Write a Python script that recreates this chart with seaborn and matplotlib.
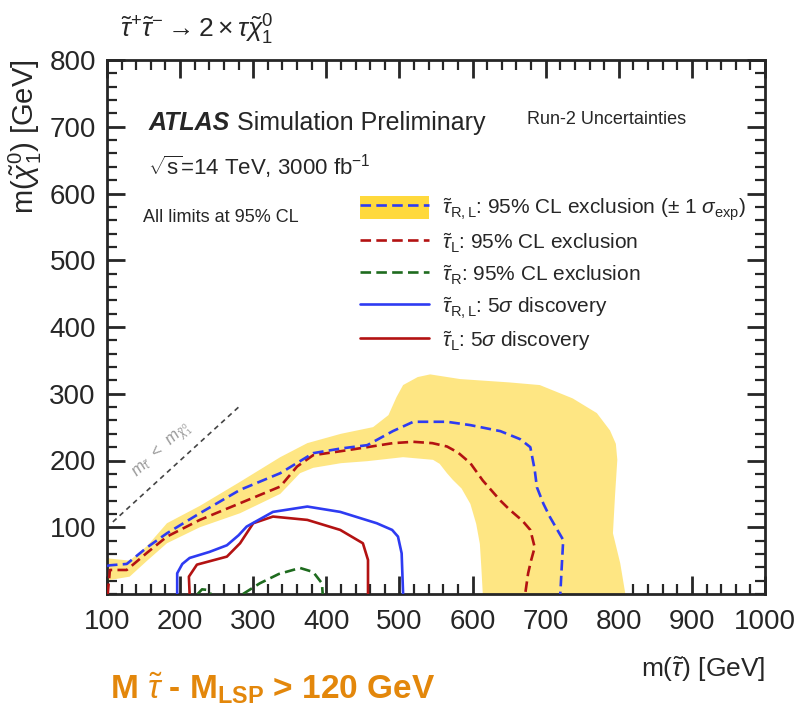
import matplotlib
matplotlib.use("Agg")
import numpy as np
import pandas as pd
import matplotlib.pyplot as plt
import seaborn as sns
from matplotlib.patches import Patch
from matplotlib.lines import Line2D
from matplotlib.legend_handler import HandlerTuple
from matplotlib.ticker import MultipleLocator

# ---- contour data: m(stau) [GeV] vs m(chi1^0) [GeV] ----
# stau_RL: 95% CL expected exclusion
excl_RL_x = [100, 104, 127, 155, 182, 227, 282, 337, 382, 420, 456, 491, 519, 565, 597, 638, 665, 679, 685, 688, 697, 706, 716, 724, 722, 720]
excl_RL_y = [42, 43, 45, 70, 91, 121, 156, 181, 211, 218, 223, 244, 258, 258, 253, 244, 232, 220, 186, 160, 135, 115, 96, 81, 41, 0]

# +-1 sigma band around the stau_RL exclusion (upper edge left->right, lower edge right->left)
band_x = [100, 104, 131, 155, 182, 227, 282, 337, 374, 420, 464, 485, 496, 505, 525, 542, 583, 650, 692, 737, 770, 788, 796, 798, 795, 792, 802, 809,
          614, 612, 610, 605, 597, 585, 573, 565, 555, 546, 505, 456, 420, 382, 364, 337, 282, 227, 182, 155, 131, 104, 100]
band_y = [55, 53, 50, 72, 106, 132, 168, 205, 226, 240, 250, 268, 295, 313, 325, 329, 322, 317, 313, 293, 271, 245, 225, 201, 150, 91, 46, 0,
          0, 40, 75, 105, 135, 158, 171, 181, 195, 201, 205, 199, 196, 189, 181, 150, 121, 100, 76, 50, 26, 21, 20]

# stau_L: 95% CL expected exclusion
excl_L_x = [101, 104, 127, 155, 182, 227, 282, 337, 360, 382, 420, 456, 491, 519, 545, 565, 580, 597, 614, 638, 651, 668, 679, 685, 680, 676, 672]
excl_L_y = [0, 36, 36, 62, 86, 111, 136, 161, 191, 208, 214, 220, 226, 228, 226, 221, 212, 196, 170, 140, 126, 110, 96, 70, 50, 31, 0]

# stau_R: 95% CL expected exclusion (two islands)
excl_R_x = [286, 309, 335, 364, 382, 394, 395]
excl_R_y = [0, 16, 30, 39, 33, 16, 0]
excl_R2_x = [224, 230, 238, 242]
excl_R2_y = [0, 7, 6, 0]

# stau_RL: 5 sigma discovery
disc_RL_x = [196, 196, 203, 213, 240, 264, 280, 291, 327, 374, 419, 469, 490, 498, 503, 505]
disc_RL_y = [0, 31, 45, 54, 63, 73, 88, 101, 123, 131, 123, 106, 96, 86, 61, 0]

# stau_L: 5 sigma discovery
disc_L_x = [213, 212, 223, 264, 282, 300, 327, 374, 419, 450, 457, 457]
disc_L_y = [0, 26, 44, 56, 76, 106, 116, 111, 96, 76, 51, 0]

# kinematic boundary m(stau) = m(chi1^0)
diag_x = [108, 280]
diag_y = [108, 280]

x_ticks = [100, 200, 300, 400, 500, 600, 700, 800, 900, 1000]
y_ticks = [100, 200, 300, 400, 500, 600, 700, 800]

BLUE = "#2E3BF2"
RED = "#B31212"
GREEN = "#1E6B1E"
BAND = "#FEE683"
BAND_LEG = "#FFD93C"
ORANGE = "#E3870B"

sns.set_style("ticks")
plt.rcParams.update({
    "mathtext.fontset": "custom",
    "mathtext.rm": "Liberation Sans",
    "mathtext.it": "Liberation Sans:italic",
    "mathtext.bf": "Liberation Sans:bold",
    "axes.linewidth": 2.0,
    "xtick.major.width": 2.0,
    "ytick.major.width": 2.0,
    "xtick.minor.width": 1.6,
    "ytick.minor.width": 1.6,
})
plt.rcParams["font.family"] = ["Liberation Sans", "DejaVu Sans"]

fig = plt.figure(figsize=(7.96, 7.11), dpi=100)
ax = fig.add_axes([107 / 796, 1 - 594 / 711, 658 / 796, 534 / 711])

ax.fill(band_x, band_y, color=BAND, lw=0, zorder=1)

def curve(x, y, color, dashed, z):
    df = pd.DataFrame({"m_stau": x, "m_lsp": y})
    sns.lineplot(data=df, x="m_stau", y="m_lsp", sort=False, estimator=None,
                 color=color, lw=1.9, ax=ax, zorder=z,
                 dashes=(4, 2) if dashed else "", solid_joinstyle="round")

curve(excl_R_x, excl_R_y, GREEN, True, 3)
curve(excl_R2_x, excl_R2_y, GREEN, True, 3)
curve(disc_L_x, disc_L_y, RED, False, 4)
curve(disc_RL_x, disc_RL_y, BLUE, False, 4)
curve(excl_L_x, excl_L_y, RED, True, 5)
curve(excl_RL_x, excl_RL_y, BLUE, True, 6)

ax.plot(diag_x, diag_y, color="#444444", lw=1.2, ls=(0, (3, 2.5)), zorder=2)
ax.text(176, 215, r"$m_{\tilde{\tau}}$  <  $m_{\tilde{\chi}^{0}_{1}}$", color="#999999",
        fontsize=12, rotation=43, ha="center", va="center")

ax.set_xlim(100, 1000)
ax.set_ylim(0, 800)
ax.set_xticks(x_ticks)
ax.set_yticks(y_ticks)
ax.xaxis.set_minor_locator(MultipleLocator(20))
ax.yaxis.set_minor_locator(MultipleLocator(20))
ax.tick_params(which="both", direction="in", top=True, right=True, labelsize=20, pad=8)
ax.tick_params(axis="x", which="major", pad=11)
ax.tick_params(which="major", length=13)
ax.tick_params(which="minor", length=7)
ax.set_xlabel(r"m($\tilde{\tau}$) [GeV]", fontsize=19, loc="right", labelpad=14)
ax.set_ylabel(r"m($\tilde{\chi}^{0}_{1}$) [GeV]", fontsize=21, loc="top", labelpad=4)

ax.set_title(r"$\tilde{\tau}^{+}\tilde{\tau}^{-} \rightarrow 2 \times \tau\tilde{\chi}^{0}_{1}$",
             fontsize=19, loc="left", x=0.02, pad=16)

ax.text(0.063, 0.882, "ATLAS", transform=ax.transAxes, fontsize=18,
        fontweight="bold", fontstyle="italic", va="center")
ax.text(0.198, 0.882, "Simulation Preliminary", transform=ax.transAxes, fontsize=18, va="center")
ax.text(0.638, 0.888, "Run-2 Uncertainties", transform=ax.transAxes, fontsize=13, va="center")
ax.text(0.063, 0.80, r"$\sqrt{\mathrm{s}}$=14 TeV, 3000 fb$^{-1}$", transform=ax.transAxes,
        fontsize=16, va="center")
ax.text(0.055, 0.705, "All limits at 95% CL", transform=ax.transAxes, fontsize=13, va="center")

handles = [
    (Patch(facecolor=BAND_LEG, edgecolor="none"), Line2D([], [], color=BLUE, lw=1.9, dashes=(4, 2))),
    Line2D([], [], color=RED, lw=1.9, dashes=(4, 2)),
    Line2D([], [], color=GREEN, lw=1.9, dashes=(4, 2)),
    Line2D([], [], color=BLUE, lw=1.9),
    Line2D([], [], color=RED, lw=1.9),
]
labels = [
    r"$\tilde{\tau}_{\mathrm{R,L}}$: 95% CL exclusion ($\pm$ 1 $\sigma_{\mathrm{exp}}$)",
    r"$\tilde{\tau}_{\mathrm{L}}$: 95% CL exclusion",
    r"$\tilde{\tau}_{\mathrm{R}}$: 95% CL exclusion",
    r"$\tilde{\tau}_{\mathrm{R,L}}$: 5$\sigma$ discovery",
    r"$\tilde{\tau}_{\mathrm{L}}$: 5$\sigma$ discovery",
]
ax.legend(handles, labels, handler_map={tuple: HandlerTuple(ndivide=1, pad=0)},
          loc="upper left", bbox_to_anchor=(0.385, 0.745), frameon=False,
          fontsize=15, handlelength=3.3, handleheight=1.3, labelspacing=0.4,
          handletextpad=0.6, borderaxespad=0, borderpad=0)

fig.text(110 / 796, 1 - 688 / 711, r"M $\tilde{\tau}$ - M$_{\mathbf{LSP}}$ > 120 GeV",
         color=ORANGE, fontsize=24, fontweight="bold", va="center")

fig.savefig("out.png", dpi=100)
